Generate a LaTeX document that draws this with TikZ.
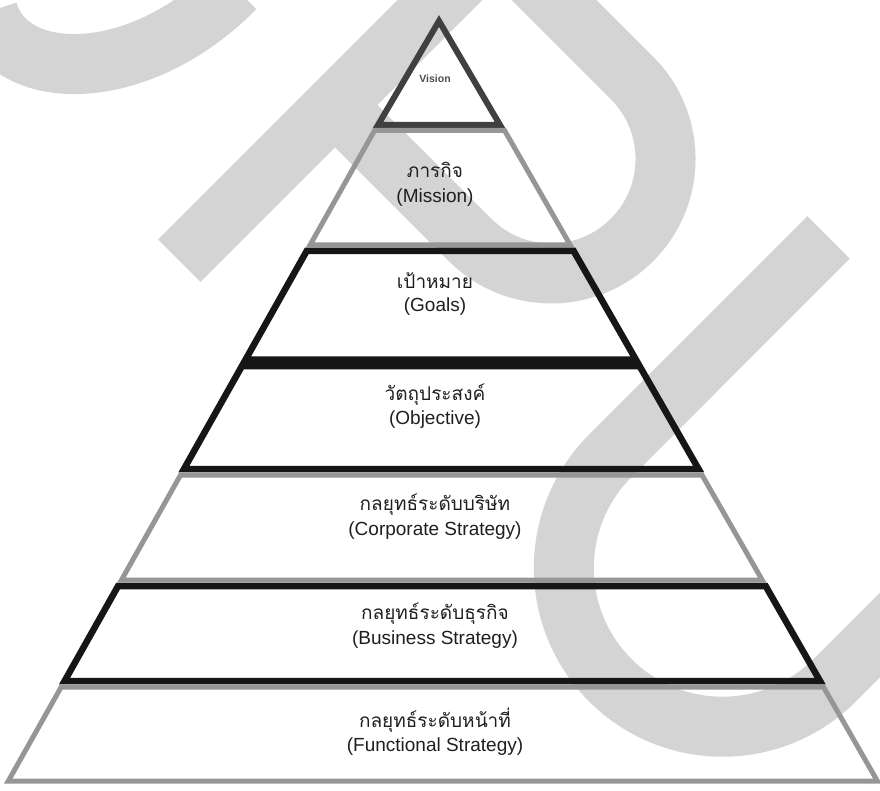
\documentclass[tikz,border=0pt]{standalone}
\usepackage{fontspec}
\setmainfont{Liberation Sans}
\newfontfamily\thaifont[Script=Thai]{Loma}

\definecolor{wmgray}{RGB}{212,212,212}
\definecolor{inkdark}{RGB}{22,22,22}
\definecolor{inksoft}{RGB}{150,150,150}

% one level of the pyramid: style, top edge y, bottom edge y
\newcommand{\pyrband}[3]{%
  \pgfmathsetmacro{\pbTL}{439-0.563*(#2-16)}%
  \pgfmathsetmacro{\pbTR}{439+0.573*(#2-16)}%
  \pgfmathsetmacro{\pbBL}{439-0.563*(#3-16)}%
  \pgfmathsetmacro{\pbBR}{439+0.573*(#3-16)}%
  \draw[#1] (\pbTL,#2) -- (\pbTR,#2) -- (\pbBR,#3) -- (\pbBL,#3) -- cycle;}

\begin{document}
\begin{tikzpicture}[x=1pt,y=-1pt,
  wmstroke/.style={draw=wmgray, line width=60pt, line cap=butt},
  strongband/.style={draw=inkdark, line width=6.5pt, line join=miter},
  softband/.style={draw=inksoft, line width=5pt, line join=miter},
  apexband/.style={draw=black!75, line width=6pt, line join=miter},
  thaitext/.style={font=\thaifont\fontsize{19}{23}\selectfont, text=black!88, inner sep=0pt, anchor=base},
  engtext/.style={font=\fontsize{19}{23}\selectfont, text=black!88, inner sep=0pt, anchor=base}]

\useasboundingbox (0,0) rectangle (880,791);
\fill[white] (0,0) rectangle (880,791);

% background lettering
\begin{scope}
  \clip (0,0) rectangle (880,791);
  % S
  \draw[wmstroke] (-12,12) .. controls (10,85) and (140,85) .. (235,-12);
  % P: stem and bowl
  \draw[wmstroke] (179.25,260.75) -- (520,-80);
  \draw[wmstroke] (497,-57) -- (632,78) arc[start angle=-45, end angle=135, radius=114.5] -- (335,105);
  % U
  \draw[wmstroke] (828.5,237.5) -- (610.3,455.8) arc[start angle=225, end angle=45, radius=158.7] -- (1000,515);
\end{scope}

% pyramid levels, top to bottom
\draw[apexband] (439,21) -- (500,125) -- (378,125) -- cycle;
\pyrband{softband}{130.5}{245}
\pyrband{strongband}{251}{359.5}
\pyrband{strongband}{366}{469}
\pyrband{softband}{475}{580}
\pyrband{strongband}{586}{681}
\pyrband{softband}{687}{781}

% labels
\node[font=\bfseries\fontsize{10.5}{12}\selectfont, text=black!70] (vision) at (435,79) {Vision};

\node[thaitext] (missionTh) at (435,178) {ภารกิจ};
\node[engtext]  (missionEn) at (435,203) {(Mission)};

\node[thaitext] (goalsTh) at (435,289) {เป้าหมาย};
\node[engtext]  (goalsEn) at (435,312) {(Goals)};

\node[thaitext] (objTh) at (435,400) {วัตถุประสงค์};
\node[engtext]  (objEn) at (435,424) {(Objective)};

\node[thaitext] (corpTh) at (435,510) {กลยุทธ์ระดับบริษัท};
\node[engtext]  (corpEn) at (435,535) {(Corporate Strategy)};

\node[thaitext] (busTh) at (435,619) {กลยุทธ์ระดับธุรกิจ};
\node[engtext]  (busEn) at (435,644) {(Business Strategy)};

\node[thaitext] (funcTh) at (435,727) {กลยุทธ์ระดับหน้าที่};
\node[engtext]  (funcEn) at (435,751) {(Functional Strategy)};
\end{tikzpicture}
\end{document}
